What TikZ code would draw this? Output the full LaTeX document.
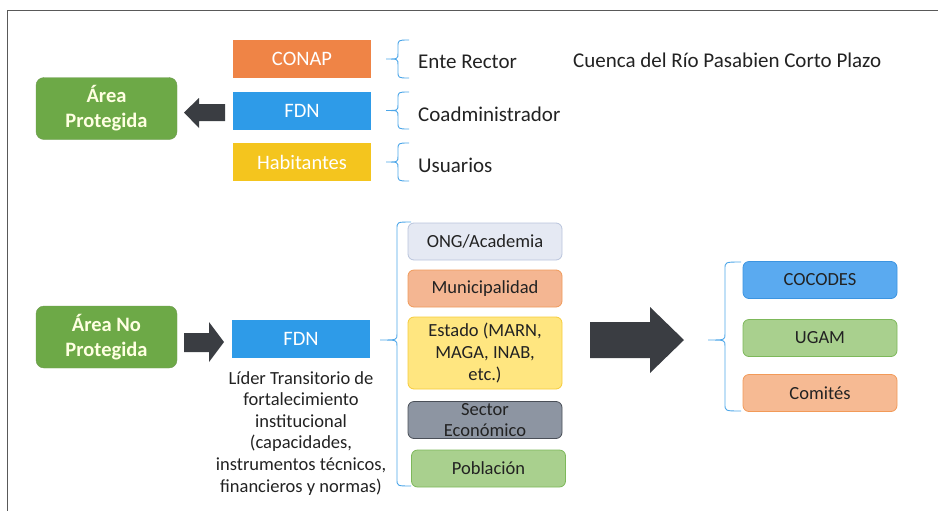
\documentclass[tikz,border=0pt]{standalone}
\usepackage{fontspec}
\setmainfont{Carlito}
\definecolor{cOrange}{HTML}{EF8446}
\definecolor{cBlue}{HTML}{2E9BE8}
\definecolor{cYellow}{HTML}{F4C51E}
\definecolor{cGreen}{HTML}{6DA947}
\definecolor{cArrow}{HTML}{3A3D42}
\definecolor{cBrace}{HTML}{4DA6E8}
\definecolor{cText}{HTML}{222222}
\definecolor{cPale}{HTML}{FFFFE2}
\definecolor{ongF}{HTML}{E5E9F3}\definecolor{ongD}{HTML}{B9C4DC}
\definecolor{munF}{HTML}{F4B692}\definecolor{munD}{HTML}{F09A5A}
\definecolor{estF}{HTML}{FFE680}\definecolor{estD}{HTML}{F6CB3A}
\definecolor{secF}{HTML}{8D95A2}\definecolor{secD}{HTML}{4A4F58}
\definecolor{pobF}{HTML}{A9D08E}\definecolor{pobD}{HTML}{7DB85A}
\definecolor{cocF}{HTML}{5AAAF0}\definecolor{cocD}{HTML}{3C94E0}
\definecolor{comF}{HTML}{F6BA93}\definecolor{comD}{HTML}{F29A58}
\newcommand\cbrace[6]{%
  \draw[bracec] (#3,#4) .. controls (#2,#4) .. (#2,{#4+7}) -- (#2,{#5-6})
    .. controls (#2,#5) .. (#1,#5) .. controls (#2,#5) .. (#2,{#5+6})
    -- (#2,{#6-7}) .. controls (#2,#6) .. (#3,#6);}
\begin{document}
\begin{tikzpicture}[x=1pt,y=-1pt,
  topbox/.style={rectangle,inner sep=0pt,minimum width=138pt,minimum height=38pt,
     text=white,font=\fontsize{20.5}{24}\selectfont},
  areabox/.style={rectangle,rounded corners=8pt,fill=cGreen,draw=cGreen!85!black!90,
     line width=0.4pt,minimum width=141pt,minimum height=62pt,inner sep=0pt,align=center,
     text=cPale,font=\bfseries\fontsize{20.5}{25}\selectfont},
  lowbox/.style={rectangle,rounded corners=6pt,line width=0.8pt,inner sep=0pt,
     minimum width=154pt,minimum height=37pt,align=center,text=cText,
     font=\fontsize{18.5}{21.6}\selectfont},
  lbl/.style={anchor=west,inner sep=0pt,text=cText,font=\fontsize{21}{25}\selectfont},
  bracec/.style={draw=cBrace,line width=0.9pt},
  blockarrow/.style={fill=cArrow,draw=none}]
\useasboundingbox (0,0) rectangle (938,515);
% frame
\draw[gray!70!black,line width=0.8pt] (938,10) -- (7,10) -- (7,511);
% title
\node[lbl] (title) at (573,60) {Cuenca del Río Pasabien Corto Plazo};
% top boxes
\node[topbox,fill=cOrange] (conap) at (302,59) {CONAP};
\node[topbox,fill=cBlue] (fdn1) at (302,110.5) {FDN};
\node[topbox,fill=cYellow] (hab) at (302,162) {Habitantes};
\cbrace{386}{398}{409}{40}{59}{78}
\cbrace{386}{398}{409}{92}{110.5}{129}
\cbrace{386}{398}{409}{143}{162}{181}
\node[lbl] (rol1) at (418,62) {Ente Rector};
\node[lbl] (rol2) at (418,114) {Coadministrador};
\node[lbl] (rol3) at (418,165) {Usuarios};
% area protegida
\node[areabox] (ap) at (106.5,108.5) {Área\\Protegida};
\path[blockarrow] (225,104) -- (199,104) -- (199,98) -- (184,112.5) -- (199,128) -- (199,121) -- (225,121) -- cycle;
% area no protegida
\node[areabox] (anp) at (106.5,337) {Área No\\Protegida};
\path[blockarrow] (184,333) -- (209,333) -- (209,322) -- (224,342) -- (209,362) -- (209,352) -- (184,352) -- cycle;
\node[topbox,fill=cBlue] (fdn2) at (301,338.5) {FDN};
\node[align=center,inner sep=0pt,text=cText,font=\fontsize{18.5}{21.6}\selectfont,anchor=north] (cap) at (301,371)
  {Líder Transitorio de\\fortalecimiento\\institucional\\(capacidades,\\instrumentos técnicos,\\financieros y normas)};
% big brace and actors
\cbrace{380}{397}{411}{222}{340}{486}
\node[lowbox,fill=ongF,draw=ongD] (ong) at (485,241.5) {ONG/Academia};
\node[lowbox,fill=munF,draw=munD] (mun) at (485,288.5) {Municipalidad};
\node[lowbox,fill=estF,draw=estD,minimum height=72pt] (est) at (485,353) {Estado (MARN,\\MAGA, INAB,\\etc.)};
\node[lowbox,fill=secF,draw=secD,font=\fontsize{18.5}{21}\selectfont] (sec) at (485,420) {Sector\\Económico};
\node[lowbox,fill=pobF,draw=pobD] (pob) at (488.5,468.5) {Población};
% big arrow
\path[blockarrow] (590,322) -- (650,322) -- (650,307) -- (684,340) -- (650,373) -- (650,358) -- (590,358) -- cycle;
% right brace and boxes
\cbrace{708}{725}{741}{262}{340}{411}
\node[lowbox,fill=cocF,draw=cocD] (coc) at (820,280) {COCODES};
\node[lowbox,fill=pobF,draw=pobD] (ugam) at (820,338) {UGAM};
\node[lowbox,fill=comF,draw=comD] (com) at (820,393) {Comités};
\end{tikzpicture}
\end{document}
